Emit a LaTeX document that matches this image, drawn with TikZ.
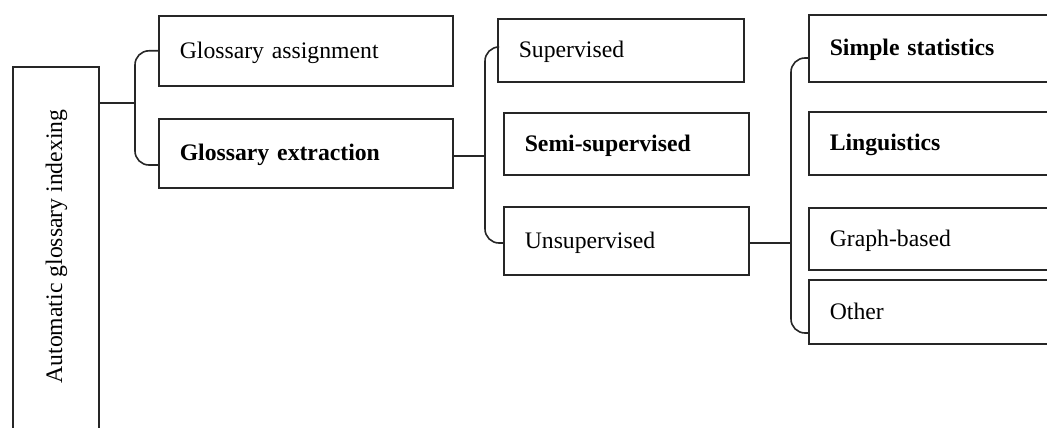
\documentclass[tikz,border=0pt]{standalone}
\usepackage{fontspec}
\setmainfont{Liberation Serif}
\usetikzlibrary{calc}

\tikzset{
  conn/.style={line width=1.6pt, draw=black!85},
  bracket/.style={conn, rounded corners=14pt},
  cat/.style={draw=black!85, line width=1.6pt, rectangle, anchor=north west,
    inner xsep=21pt, inner ysep=0pt, align=left,
    text height=15pt, text depth=0pt,
    font=\fontsize{23.7}{28}\selectfont},
}

\begin{document}
\begin{tikzpicture}[x=1pt, y=-1pt]
  \useasboundingbox (0,0) rectangle (1047,428);
  \clip (0,0) rectangle (1047,428);

  % root of the taxonomy, written vertically
  \node[draw=black!85, line width=1.6pt, rectangle, anchor=north west,
        minimum width=86pt, minimum height=420pt] (root) at (12,66) {};
  \node[rotate=90, anchor=base, font=\fontsize{23.7}{28}\selectfont]
        (rootlabel) at (62,246.5) {Automatic glossary indexing};

  % level 1
  \node[cat, minimum width=294pt, minimum height=70pt, text width=252pt] (assign) at (158,15) {Glossary assignment};
  \node[cat, minimum width=294pt, minimum height=69pt, text width=252pt] (extract) at (158,118) {\textbf{Glossary extraction}};

  % level 2
  \node[cat, minimum width=246pt, minimum height=63pt, text width=204pt] (sup) at (497,18) {Supervised};
  \node[cat, minimum width=245pt, minimum height=62pt, text width=203pt] (semi) at (503,112) {\textbf{Semi-supervised}};
  \node[cat, minimum width=245pt, minimum height=68pt, text width=203pt] (unsup) at (503,206) {Unsupervised};

  % level 3 (boxes run past the right edge)
  \node[cat, minimum width=260pt, minimum height=67pt, text width=218pt] (simple) at (808,14) {\textbf{Simple statistics}};
  \node[cat, minimum width=260pt, minimum height=63pt, text width=218pt] (ling) at (808,111) {\textbf{Linguistics}};
  \node[cat, minimum width=260pt, minimum height=62pt, text width=218pt] (graph) at (808,207) {Graph-based};
  \node[cat, minimum width=260pt, minimum height=64pt, text width=218pt] (other) at (808,279) {Other};

  % bracket spines and ends
  \coordinate (spineA) at (135,103);
  \coordinate (endA) at (158,165);
  \coordinate (spineB) at (485,156);
  \coordinate (topB) at (497,47);
  \coordinate (endB) at (503,243);
  \coordinate (spineC) at (791,243);
  \coordinate (topC) at (808,58);
  \coordinate (endC) at (808,333);

  % connectors
  \draw[conn] (root.east |- spineA) -- (spineA);
  \draw[bracket] (assign.west) -| (spineA) |- (endA);

  \draw[conn] (extract.east |- spineB) -- (spineB);
  \draw[bracket] (topB) -| (spineB) |- (endB);

  \draw[conn] (unsup.east |- spineC) -- (spineC);
  \draw[bracket] (topC) -| (spineC) |- (endC);
\end{tikzpicture}
\end{document}
